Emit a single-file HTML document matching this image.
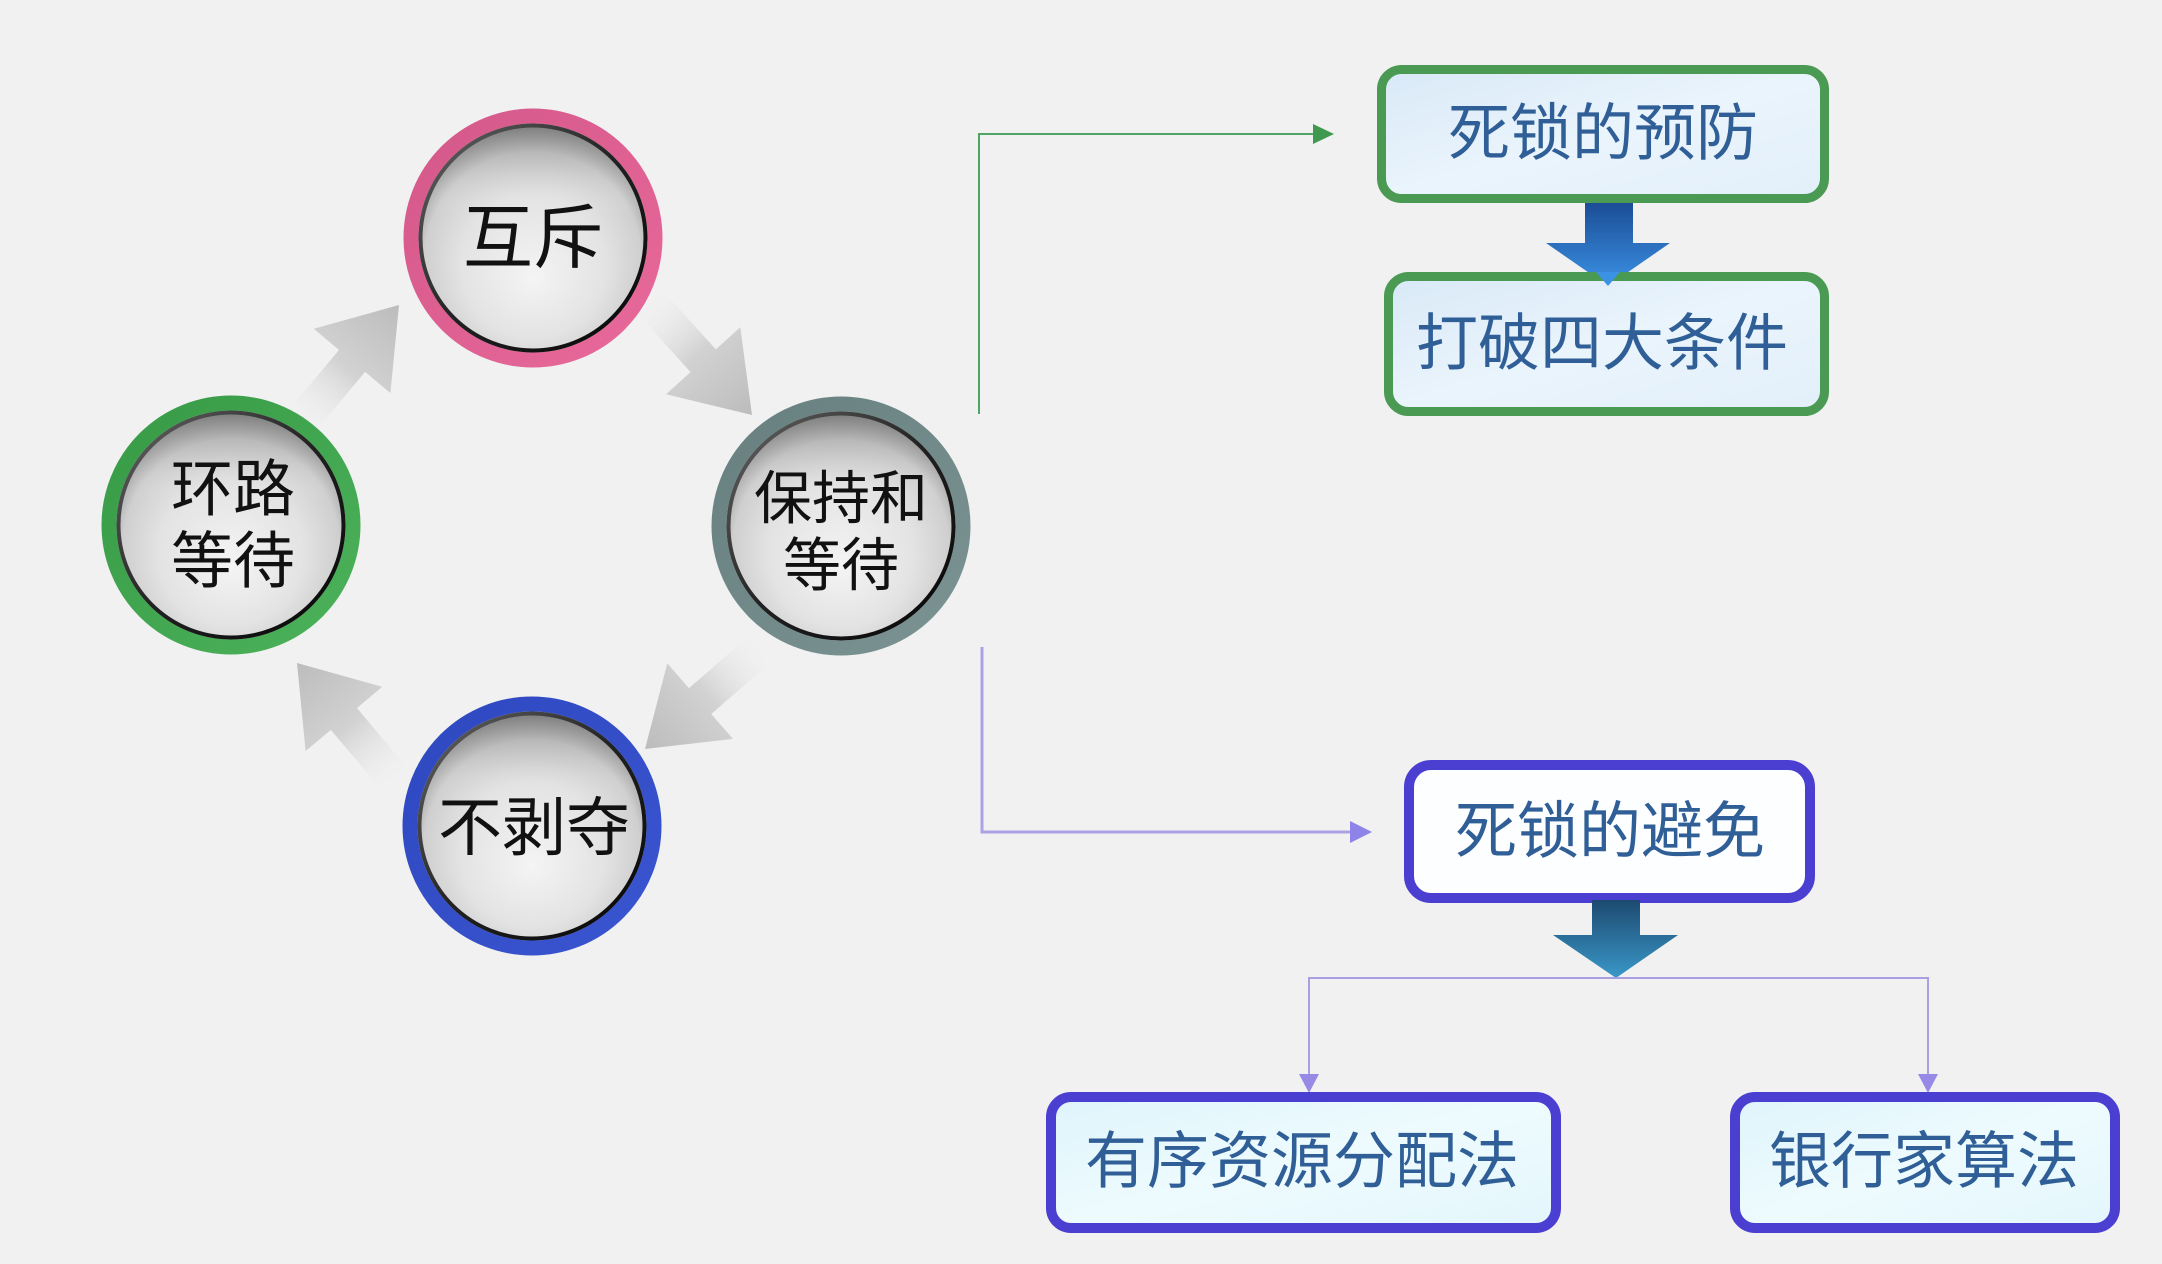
<!DOCTYPE html>
<html>
<head>
<meta charset="utf-8">
<style>
  html,body{margin:0;padding:0;background:#f1f1f1;}
  svg{display:block;}
  .ct{font-family:"Liberation Sans","Noto Sans CJK SC","WenQuanYi Zen Hei",sans-serif;fill:#111;}
  .bt{font-family:"Liberation Sans","Noto Sans CJK SC","WenQuanYi Zen Hei",sans-serif;fill:#2f5f96;}
</style>
</head>
<body>
<svg width="2162" height="1264" viewBox="0 0 2162 1264" xmlns="http://www.w3.org/2000/svg">
  <defs>
    <radialGradient id="disc" cx="50%" cy="58%" r="58%" fx="50%" fy="68%">
      <stop offset="0" stop-color="#f4f4f4"/>
      <stop offset="0.55" stop-color="#e3e3e3"/>
      <stop offset="0.82" stop-color="#cfcfcf"/>
      <stop offset="1" stop-color="#8e8e8e"/>
    </radialGradient>
    <linearGradient id="topshade" x1="0" y1="0" x2="0" y2="1">
      <stop offset="0" stop-color="#6a6a6a" stop-opacity="0.55"/>
      <stop offset="0.18" stop-color="#9a9a9a" stop-opacity="0.25"/>
      <stop offset="0.4" stop-color="#ffffff" stop-opacity="0"/>
      <stop offset="1" stop-color="#ffffff" stop-opacity="0"/>
    </linearGradient>
    <linearGradient id="darkring" x1="0" y1="0" x2="1" y2="1">
      <stop offset="0" stop-color="#666"/>
      <stop offset="0.5" stop-color="#222"/>
      <stop offset="1" stop-color="#050505"/>
    </linearGradient>
    <linearGradient id="pink" x1="0" y1="0" x2="1" y2="1">
      <stop offset="0" stop-color="#d4588a"/>
      <stop offset="1" stop-color="#e8699a"/>
    </linearGradient>
    <linearGradient id="teal" x1="0" y1="0" x2="1" y2="1">
      <stop offset="0" stop-color="#67807f"/>
      <stop offset="1" stop-color="#7b9493"/>
    </linearGradient>
    <linearGradient id="blue" x1="0" y1="0" x2="1" y2="1">
      <stop offset="0" stop-color="#2e48c0"/>
      <stop offset="1" stop-color="#3a55d0"/>
    </linearGradient>
    <linearGradient id="green" x1="0" y1="0" x2="1" y2="1">
      <stop offset="0" stop-color="#379a46"/>
      <stop offset="1" stop-color="#4cb25a"/>
    </linearGradient>
    <linearGradient id="garrow" gradientUnits="userSpaceOnUse" x1="-150" y1="0" x2="0" y2="0">
      <stop offset="0" stop-color="#f0f0f0" stop-opacity="0.2"/>
      <stop offset="0.45" stop-color="#d2d2d2"/>
      <stop offset="1" stop-color="#bcbcbc"/>
    </linearGradient>
    <linearGradient id="boxg" x1="0" y1="0" x2="1" y2="1">
      <stop offset="0" stop-color="#d9e9f7"/>
      <stop offset="0.5" stop-color="#eaf4fc"/>
      <stop offset="1" stop-color="#e2effa"/>
    </linearGradient>
    <linearGradient id="boxc" x1="0" y1="0" x2="1" y2="1">
      <stop offset="0" stop-color="#def4fb"/>
      <stop offset="0.5" stop-color="#eefbfe"/>
      <stop offset="1" stop-color="#e3f6fc"/>
    </linearGradient>
    <linearGradient id="ba1" x1="0" y1="0" x2="0" y2="1">
      <stop offset="0" stop-color="#1b4d96"/>
      <stop offset="1" stop-color="#3b91e4"/>
    </linearGradient>
    <linearGradient id="ba2" x1="0" y1="0" x2="0" y2="1">
      <stop offset="0" stop-color="#1c4a70"/>
      <stop offset="1" stop-color="#3a97c8"/>
    </linearGradient>
    <g id="arr">
      <path d="M0,0 L-73,-50 L-73,-17 L-150,-17 L-150,17 L-73,17 L-73,50 Z" fill="url(#garrow)"/>
    </g>
  </defs>

  <rect x="0" y="0" width="2162" height="1264" fill="#f1f1f1"/>

  <!-- gray cycle arrows -->
  <use href="#arr" transform="translate(399,305) rotate(-50)"/>
  <use href="#arr" transform="translate(752,415) rotate(48)"/>
  <use href="#arr" transform="translate(645,749) rotate(139)"/>
  <use href="#arr" transform="translate(297,663) rotate(-130)"/>

  <!-- circle: 互斥 -->
  <g transform="translate(533,238)">
    <circle r="122" fill="none" stroke="url(#pink)" stroke-width="15"/>
    <circle r="114" fill="url(#disc)"/>
    <circle r="114" fill="url(#topshade)"/>
    <circle r="112.5" fill="none" stroke="url(#darkring)" stroke-width="4"/>
    <text class="ct" x="0" y="0" font-size="70" text-anchor="middle" dominant-baseline="central">互斥</text>
  </g>

  <!-- circle: 保持和等待 -->
  <g transform="translate(841,526)">
    <circle r="122" fill="none" stroke="url(#teal)" stroke-width="15"/>
    <circle r="114" fill="url(#disc)"/>
    <circle r="114" fill="url(#topshade)"/>
    <circle r="112.5" fill="none" stroke="url(#darkring)" stroke-width="4"/>
    <text class="ct" x="0" y="-27" font-size="58" text-anchor="middle" dominant-baseline="central">保持和</text>
    <text class="ct" x="0" y="40" font-size="58" text-anchor="middle" dominant-baseline="central">等待</text>
  </g>

  <!-- circle: 不剥夺 -->
  <g transform="translate(532,826)">
    <circle r="122" fill="none" stroke="url(#blue)" stroke-width="15"/>
    <circle r="114" fill="url(#disc)"/>
    <circle r="114" fill="url(#topshade)"/>
    <circle r="112.5" fill="none" stroke="url(#darkring)" stroke-width="4"/>
    <text class="ct" x="2" y="2" font-size="64" text-anchor="middle" dominant-baseline="central">不剥夺</text>
  </g>

  <!-- circle: 环路等待 -->
  <g transform="translate(231,525)">
    <circle r="122" fill="none" stroke="url(#green)" stroke-width="15"/>
    <circle r="114" fill="url(#disc)"/>
    <circle r="114" fill="url(#topshade)"/>
    <circle r="112.5" fill="none" stroke="url(#darkring)" stroke-width="4"/>
    <text class="ct" x="2" y="-35" font-size="62" text-anchor="middle" dominant-baseline="central">环路</text>
    <text class="ct" x="2" y="37" font-size="62" text-anchor="middle" dominant-baseline="central">等待</text>
  </g>

  <!-- green connector -->
  <polyline points="979,414 979,134 1316,134" fill="none" stroke="#4fa565" stroke-width="2"/>
  <polygon points="1313,124 1334,134 1313,144" fill="#3f9a4f"/>

  <!-- purple connector -->
  <polyline points="982,647 982,832 1352,832" fill="none" stroke="#aba2e4" stroke-width="3"/>
  <polygon points="1350,821 1372,832 1350,843" fill="#8f82e8"/>

  <!-- box 1 -->
  <rect x="1381.5" y="69.5" width="443" height="129" rx="20" fill="url(#boxg)" stroke="#4a9a53" stroke-width="9"/>
  <text class="bt" x="1603" y="134" font-size="62" text-anchor="middle" dominant-baseline="central">死锁的预防</text>

  <!-- blue arrow 1 -->
  <path d="M1585,203 L1633,203 L1633,243 L1670,243 L1608,286 L1546,243 L1585,243 Z" fill="url(#ba1)"/>

  <!-- box 2 -->
  <rect x="1388.5" y="276.5" width="436" height="135" rx="20" fill="url(#boxg)" stroke="#4a9a53" stroke-width="9"/>
  <polygon points="1596,272 1620,272 1608,286" fill="#3b91e4"/>
  <text class="bt" x="1602" y="344" font-size="62" text-anchor="middle" dominant-baseline="central">打破四大条件</text>

  <!-- box 3 -->
  <rect x="1409" y="765" width="401" height="133" rx="22" fill="#fdfeff" stroke="#4a3fd1" stroke-width="10"/>
  <text class="bt" x="1610" y="832" font-size="62" text-anchor="middle" dominant-baseline="central">死锁的避免</text>

  <!-- blue arrow 2 -->
  <path d="M1592,900 L1640,900 L1640,935 L1678,935 L1616,978 L1553,935 L1592,935 Z" fill="url(#ba2)"/>

  <!-- branch connectors -->
  <polyline points="1309,1076 1309,978 1928,978 1928,1076" fill="none" stroke="#a9a0e2" stroke-width="2"/>
  <polygon points="1299,1074 1319,1074 1309,1093" fill="#978ae7"/>
  <polygon points="1918,1074 1938,1074 1928,1093" fill="#978ae7"/>

  <!-- box 4 -->
  <rect x="1051" y="1097" width="505" height="131" rx="20" fill="url(#boxc)" stroke="#4a3fd1" stroke-width="10"/>
  <text class="bt" x="1302" y="1162" font-size="62" text-anchor="middle" dominant-baseline="central">有序资源分配法</text>

  <!-- box 5 -->
  <rect x="1735" y="1097" width="380" height="131" rx="20" fill="url(#boxc)" stroke="#4a3fd1" stroke-width="10"/>
  <text class="bt" x="1924" y="1162" font-size="62" text-anchor="middle" dominant-baseline="central">银行家算法</text>
</svg>
</body>
</html>
